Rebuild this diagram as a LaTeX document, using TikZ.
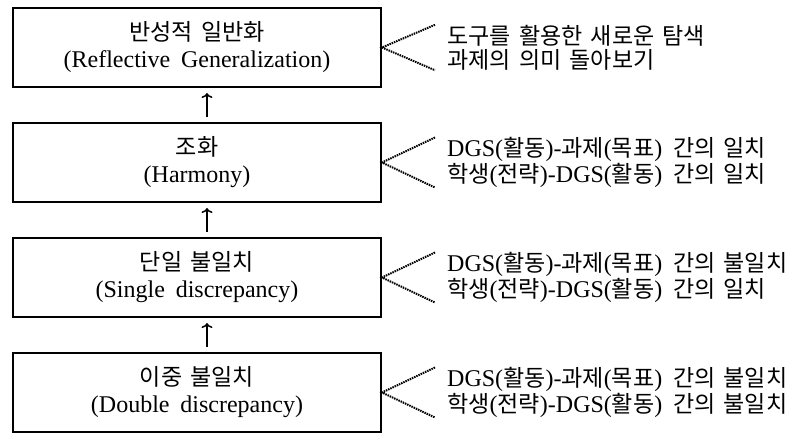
\documentclass[tikz,border=0pt]{standalone}
\usepackage{fontspec}
\setmainfont[WordSpace=1.8]{Liberation Serif}
\newfontfamily\kr[Scale=0.96, WordSpace=1.6]{Noto Sans CJK KR}
\usetikzlibrary{positioning, arrows.meta}

\begin{document}
\begin{tikzpicture}[x=1pt, y=-1pt, >={To[length=5pt, width=11pt]},
    level/.style={draw, line width=2pt, minimum width=368pt, minimum height=79pt,
        align=center, font=\fontsize{24}{27}\selectfont,
        execute at begin node=\rule{0pt}{27pt}},
    note/.style={inner sep=0pt, align=left, font=\fontsize{24}{24}\selectfont},
    fan/.style={line width=2pt, dash pattern=on 1.5pt off 0.9pt},
    up/.style={->, line width=1.5pt, shorten >=5pt, shorten <=5pt}]
    \useasboundingbox (0,0) rectangle (796,432);

    % Levels (bottom to top in meaning, drawn top down)
    \node[level] (gen) at (197, 47.5) {{\kr 반성적 일반화}\\(Reflective Generalization)};
    \node[level, below=34pt of gen] (harm) {{\kr 조화}\\(Harmony)};
    \node[level, below=34pt of harm] (single) {{\kr 단일 불일치}\\(Single discrepancy)};
    \node[level, below=34pt of single] (double) {{\kr 이중 불일치}\\(Double discrepancy)};

    % Arrows between levels
    \foreach \a/\b in {harm/gen, single/harm, double/single} {
        \draw[up] ([xshift=10pt]\a.north) -- ([xshift=10pt]\b.south);
    }

    % Descriptions
    \node[note, right=65pt of gen] (gen-txt) {{\kr 도구를 활용한 새로운 탐색}\\{\kr 과제의 의미 돌아보기}};
    \node[note, right=65pt of harm] (harm-txt) {DGS({\kr 활동})-{\kr 과제}({\kr 목표}) {\kr 간의 일치}\\{\kr 학생}({\kr 전략})-DGS({\kr 활동}) {\kr 간의 일치}};
    \node[note, right=65pt of single] (single-txt) {DGS({\kr 활동})-{\kr 과제}({\kr 목표}) {\kr 간의 불일치}\\{\kr 학생}({\kr 전략})-DGS({\kr 활동}) {\kr 간의 일치}};
    \node[note, right=65pt of double] (double-txt) {DGS({\kr 활동})-{\kr 과제}({\kr 목표}) {\kr 간의 불일치}\\{\kr 학생}({\kr 전략})-DGS({\kr 활동}) {\kr 간의 불일치}};

    % Dotted fans
    \foreach \n in {gen, harm, single, double} {
        \draw[fan] ([xshift=-12pt]\n-txt.north west) -- (\n.east) -- ([xshift=-12pt]\n-txt.south west);
    }
\end{tikzpicture}
\end{document}
